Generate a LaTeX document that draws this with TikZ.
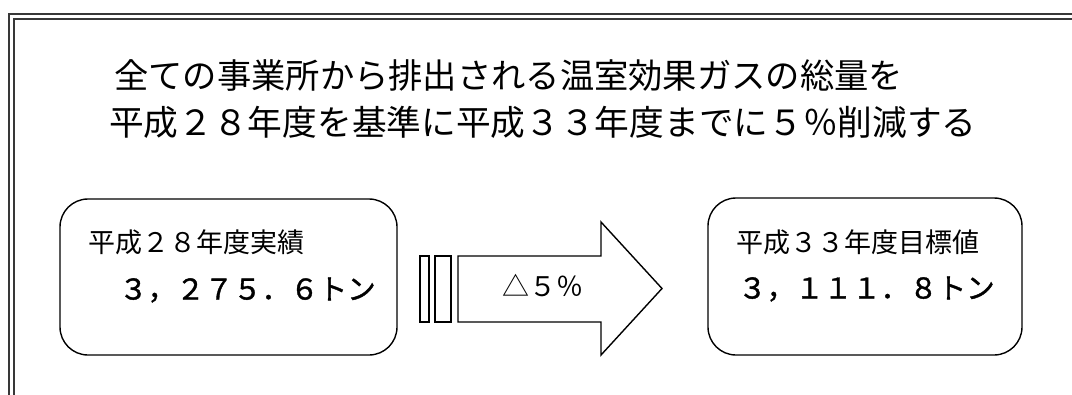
\documentclass[tikz,border=0pt]{standalone}
\usepackage{fontspec}
\newfontfamily\jp{Noto Sans CJK JP}
\newfontfamily\jpnum[FakeBold=1.3]{Noto Sans CJK JP}
\tikzset{
  frameline/.style={draw=black!78, line width=2pt},
  roundbox/.style={draw=black, line width=1.4pt, rounded corners=28pt, inner sep=0pt},
  shapeline/.style={draw=black, line width=1.4pt, line join=miter},
  title/.style={anchor=west, inner sep=0pt, font=\jp\fontsize{34.3}{34}\selectfont},
  label/.style={anchor=west, inner sep=0pt, font=\jp\fontsize{27}{27}\selectfont},
  value/.style={anchor=west, inner sep=0pt, font=\jpnum\fontsize{28.5}{28}\selectfont},
}
\begin{document}
\begin{tikzpicture}[x=1pt,y=-1pt]
\useasboundingbox (0,0) rectangle (1072,394);
\begin{scope}
\clip (0,0) rectangle (1072,394);
\draw[frameline] (9,14) rectangle (1090,410);
\draw[frameline] (14,19) rectangle (1085,405);
\end{scope}
% title
\node[title] (t1) at (114,75) {全ての事業所から排出される温室効果ガスの総量を};
\node[title, font=\jp\fontsize{34.7}{34}\selectfont] (t2) at (109,122.5) {平成２８年度を基準に平成３３年度までに５％削減する};
% left box
\node[roundbox, minimum width=337pt, minimum height=156pt] (lb) at (228.5,277) {};
\node[label] (l1) at (88,242) {平成２８年度実績};
\node[value] (l2) at (119,290) {３，２７５．６トン};
% right box
\node[roundbox, minimum width=314pt, minimum height=157pt] (rb) at (865,276.5) {};
\node[label] (r1) at (736,242) {平成３３年度目標値};
\node[value] (r2) at (738,289) {３，１１１．８トン};
% bars and arrow
\draw[shapeline] (420,256) rectangle (429,322);
\draw[shapeline] (435,256) rectangle (451,322);
\draw[shapeline] (458,256) -- (601,256) -- (601,222) -- (662,288.5) -- (601,355) -- (601,322) -- (458,322) -- cycle;
\node[inner sep=0pt, font=\jp\fontsize{27}{27}\selectfont] (ap) at (543,286) {△５％};
\end{tikzpicture}
\end{document}
